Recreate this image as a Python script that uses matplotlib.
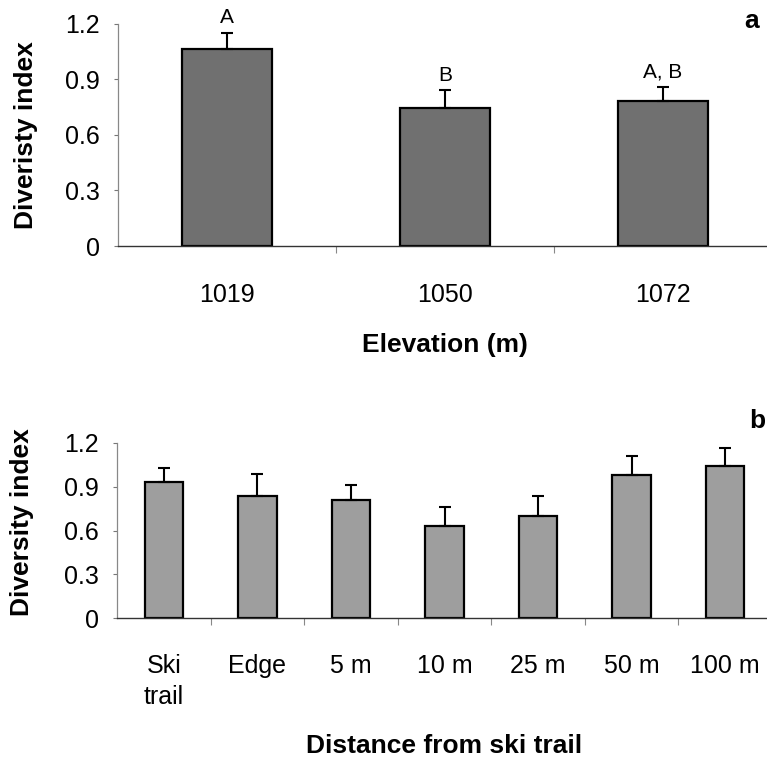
import matplotlib
matplotlib.use("Agg")
import matplotlib.pyplot as plt
import numpy as np

plt.rcParams['font.family'] = ['Liberation Sans', 'DejaVu Sans']

# Panel a data
elev_labels = ['1019', '1050', '1072']
elev_vals = [1.066, 0.748, 0.783]
elev_err = [0.086, 0.093, 0.076]
elev_letters = ['A', 'B', 'A, B']

# Panel b data
dist_labels = ['Ski\ntrail', 'Edge', '5 m', '10 m', '25 m', '50 m', '100 m']
dist_vals = [0.933, 0.834, 0.811, 0.628, 0.702, 0.981, 1.040]
dist_err = [0.096, 0.155, 0.101, 0.133, 0.132, 0.127, 0.126]

yticks = [0, 0.3, 0.6, 0.9, 1.2]
ytick_labels = ['0', '0.3', '0.6', '0.9', '1.2']

W, H = 767, 763
fig = plt.figure(figsize=(W / 100, H / 100), dpi=100)

def px_axes(left, top, right, bottom):
    return fig.add_axes([left / W, 1 - bottom / H, (right - left) / W, (bottom - top) / H])

ax1 = px_axes(118, 24, 772, 246)
ax2 = px_axes(117, 443, 772, 618)

def style(ax, n, labels, pad):
    ax.set_xlim(-0.5, n - 0.5)
    ax.set_ylim(0, 1.2)
    ax.set_yticks(yticks)
    ax.set_yticklabels(ytick_labels, fontsize=18)
    ax.set_xticks(np.arange(n))
    ax.set_xticklabels(labels, fontsize=18, linespacing=1.35)
    ax.set_xticks(np.arange(n - 1) + 0.5, minor=True)
    ax.tick_params(axis='x', which='major', length=0, pad=pad)
    ax.tick_params(axis='x', which='minor', length=5, width=0.8, color='#888888', direction='out')
    ax.tick_params(axis='y', length=3, width=0.8, color='#777777', pad=10)
    for s in ['top', 'right']:
        ax.spines[s].set_visible(False)
    ax.spines['left'].set_color('#888888')
    ax.spines['left'].set_linestyle((0, (2, 1)))
    ax.spines['left'].set_linewidth(0.9)
    ax.spines['bottom'].set_color('#333333')
    ax.spines['bottom'].set_linewidth(1.0)

# Panel a
x1 = np.arange(len(elev_vals))
ax1.bar(x1, elev_vals, width=0.41, color='#707070', edgecolor='black', linewidth=1.6, zorder=2)
ax1.errorbar(x1, elev_vals, yerr=[np.zeros(len(elev_err)), elev_err], fmt='none',
             ecolor='black', elinewidth=1.5, capsize=4, capthick=1.5, zorder=3)
for xi, v, e, t in zip(x1, elev_vals, elev_err, elev_letters):
    ax1.annotate(t, (xi, v + e), xytext=(0, 4), textcoords='offset points',
                 ha='center', va='bottom', fontsize=15)
style(ax1, len(elev_vals), elev_labels, 27)
ax1.set_ylabel('Diveristy index', fontsize=19, fontweight='bold')
ax1.yaxis.set_label_coords(-0.122, 0.5)
ax1.set_xlabel('Elevation (m)', fontsize=19, fontweight='bold')
ax1.xaxis.set_label_coords(0.5, -0.446)
ax1.xaxis.label.set_va('center')

# Panel b
x2 = np.arange(len(dist_vals))
ax2.bar(x2, dist_vals, width=0.41, color='#9e9e9e', edgecolor='black', linewidth=1.6, zorder=2)
ax2.errorbar(x2, dist_vals, yerr=[np.zeros(len(dist_err)), dist_err], fmt='none',
             ecolor='black', elinewidth=1.5, capsize=4, capthick=1.5, zorder=3)
style(ax2, len(dist_vals), dist_labels, 26)
ax2.set_ylabel('Diversity index', fontsize=19, fontweight='bold')
ax2.yaxis.set_label_coords(-0.126, 0.55)
ax2.set_xlabel('Distance from ski trail', fontsize=19, fontweight='bold')
ax2.xaxis.set_label_coords(0.5, -0.731)
ax2.xaxis.label.set_va('center')

fig.text(752 / W, 1 - 21 / H, 'a', fontsize=19, fontweight='bold', ha='center', va='center')
fig.text(757 / W, 1 - 421 / H, 'b', fontsize=19, fontweight='bold', ha='center', va='center')

fig.savefig('out.png', dpi=100)
